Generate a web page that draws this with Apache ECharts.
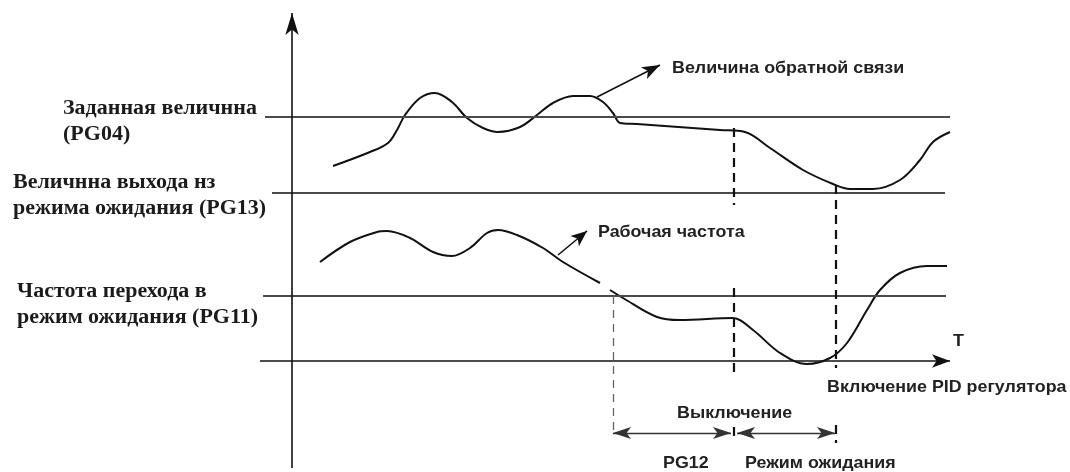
<!DOCTYPE html>
<html>
<head>
<meta charset="utf-8">
<script src="https://cdn.jsdelivr.net/npm/echarts@6/dist/echarts.min.js"></script>
<style>
  html, body { margin: 0; background: #fff; }
  #chart { width: 1070px; height: 472px; }
</style>
</head>
<body>
<div id="chart"></div>
<script>
// время t и величина v, отсчёт от пересечения осей
const feedback = [
  [41, 195], [78, 209], [96, 218], [105, 231], [113, 246], [128, 263], [143, 268],
  [160, 259], [175, 243], [191, 233], [206, 229], [228, 234], [245, 246], [261, 258],
  [281, 265], [298, 265], [311, 259], [321, 248], [328, 238], [345, 237], [428, 231],
  [453, 229], [478, 213], [511, 191], [541, 177], [558, 172], [581, 172], [608, 181],
  [628, 201], [641, 219], [658, 229]
];
const freqBefore = [
  [28, 99], [58, 119], [85, 129], [95, 130], [118, 123], [141, 109], [160, 105],
  [178, 113], [195, 128], [206, 131], [225, 126], [251, 113], [271, 99], [308, 78]
];
const freqAfter = [
  [318, 71], [331, 63], [365, 44], [388, 41], [441, 43], [461, 31], [488, 8],
  [515, -3], [538, 3], [555, 18], [575, 51], [588, 71], [608, 88], [635, 95], [655, 95]
];
const setpoint = 244;
const wakeLevel = 168;
const sleepFreq = 65;
const tSleep = 321;
const tOff = 442;
const tPid = 544;
const spanRow = -72;

const chart = echarts.init(document.getElementById('chart'));

const black = '#111';
function seg(a, b, style, s1, s2, size) {
  return [
    { coord: a, lineStyle: style, symbol: s1 || 'none', symbolSize: size || [9, 16] },
    { coord: b, symbol: s2 || 'none', symbolSize: size || [9, 16] }
  ];
}
const solid = { color: black, width: 1.6, type: 'solid' };
const level = { color: '#4a4a4a', width: 2, type: 'solid' };
const heavyDash = { color: black, width: 2.2, type: [9, 6] };
const thinDash = { color: '#666', width: 1.3, type: [8, 6] };
const span = { color: '#333', width: 1.3, type: 'solid' };

const sansBold = 'bold 17px "Liberation Sans", Arial, sans-serif';
const serifBold = 'bold 20px "Liberation Serif", "Times New Roman", serif';

function serifLabel(x, y, text) {
  return { type: 'text', x: x, y: y, scaleX: 1.1,
    style: { text: text, font: serifBold, lineHeight: 26, fill: '#1b1b1b', verticalAlign: 'middle' } };
}
function sansLabel(x, y, text) {
  return { type: 'text', x: x, y: y, scaleX: 1.05,
    style: { text: text, font: sansBold, fill: '#222', verticalAlign: 'middle' } };
}

const curveStyle = { color: black, width: 2 };

const option = {
  animation: false,
  grid: { left: 0, right: 0, top: 0, bottom: 0 },
  xAxis: { type: 'value', min: -292, max: 778, show: false },
  yAxis: { type: 'value', min: -111, max: 361, show: false },
  series: [
    {
      name: 'Величина обратной связи',
      type: 'line',
      data: feedback,
      smooth: 0.35,
      symbol: 'none',
      lineStyle: curveStyle,
      silent: true,
      markLine: {
        silent: true,
        animation: false,
        label: { show: false },
        emphasis: { disabled: true },
        data: [
          // уровни
          seg([-27, setpoint], [658, setpoint], level),
          seg([-20, wakeLevel], [653, wakeLevel], level),
          seg([-29, sleepFreq], [654, sleepFreq], level),
          // оси
          seg([-32, 0], [658, 0], solid, 'none', 'arrow', [10, 18]),
          seg([0, -107], [0, 348], solid, 'none', 'arrow', [10, 22]),
          // указатели подписей
          seg([305, 264], [368, 296], solid, 'none', 'arrow', [10, 18]),
          seg([266, 106], [295, 130], solid, 'none', 'arrow', [10, 16]),
          // пунктирные отметки
          seg([tSleep, sleepFreq], [tSleep, spanRow], thinDash),
          seg([tOff, 233], [tOff, 156], heavyDash),
          seg([tOff, 73], [tOff, -16], heavyDash),
          seg([tOff, -66], [tOff, -80], heavyDash),
          seg([tPid, 176], [tPid, -7], heavyDash),
          seg([tPid, -64], [tPid, -82], heavyDash),
          // интервалы
          seg([tSleep, spanRow], [tOff - 3, spanRow], span, 'arrow', 'arrow', [9, 18]),
          seg([tOff + 3, spanRow], [tPid - 1, spanRow], span, 'arrow', 'arrow', [9, 18])
        ]
      }
    },
    {
      name: 'Рабочая частота',
      type: 'line',
      data: freqBefore,
      smooth: 0.35,
      symbol: 'none',
      lineStyle: curveStyle,
      silent: true
    },
    {
      name: 'Рабочая частота (после)',
      type: 'line',
      data: freqAfter,
      smooth: 0.35,
      symbol: 'none',
      lineStyle: curveStyle,
      silent: true
    }
  ],
  graphic: [
    serifLabel(63, 122, 'Заданная величнна\n(PG04)'),
    serifLabel(13, 196, 'Величнна выхода нз\nрежима ожидания (PG13)'),
    serifLabel(17, 305, 'Частота перехода в\nрежим ожидания (PG11)'),
    sansLabel(672, 68, 'Величина обратной связи'),
    sansLabel(598, 232, 'Рабочая частота'),
    sansLabel(953, 341, 'T'),
    sansLabel(827, 387, 'Включение PID регулятора'),
    sansLabel(677, 413, 'Выключение'),
    sansLabel(663, 463, 'PG12'),
    sansLabel(745, 463, 'Режим ожидания')
  ]
};

chart.setOption(option);
</script>
</body>
</html>
